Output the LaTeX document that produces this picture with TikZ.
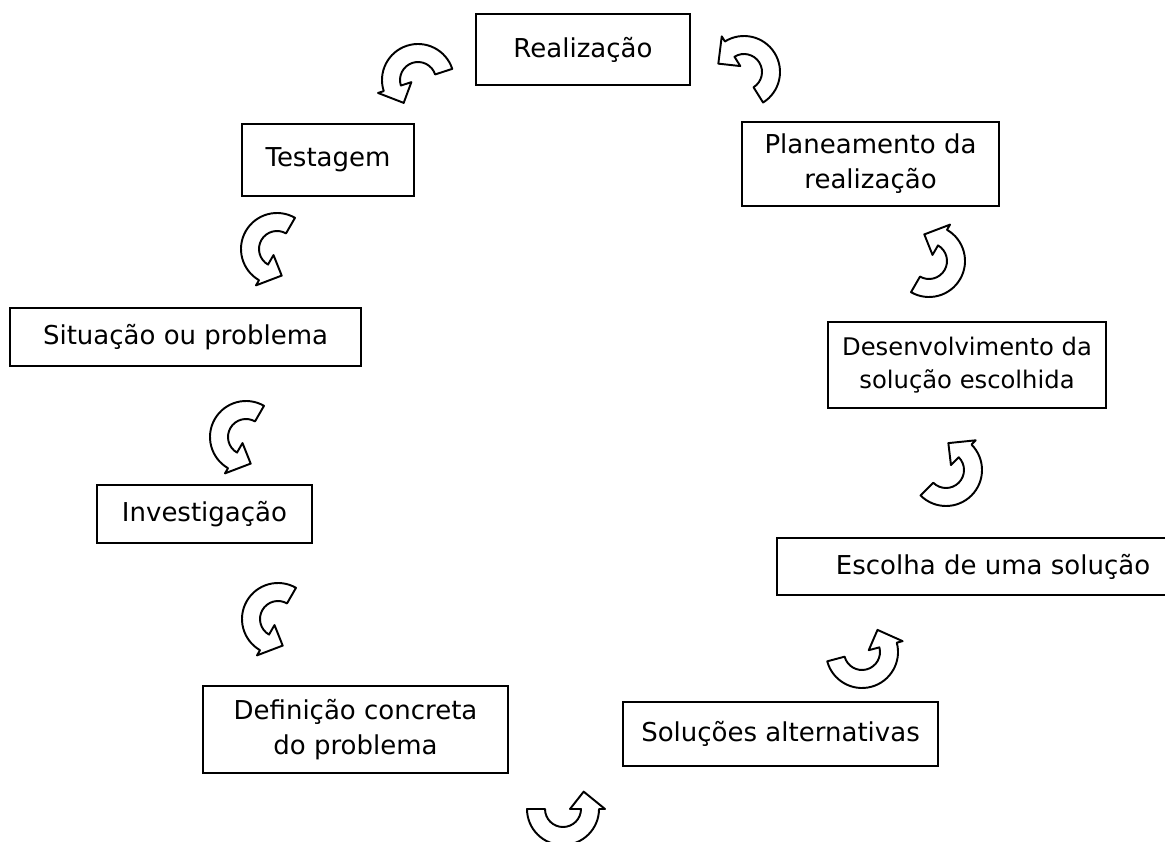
\documentclass[tikz,border=0pt]{standalone}
\usepackage{fontspec}
\setmainfont{DejaVu Sans}
\usetikzlibrary{positioning}

\begin{document}
\begin{tikzpicture}[
  font=\fontsize{14.8}{20}\selectfont,
  stage/.style={draw, line width=1pt, align=center, inner sep=2pt},
  cyclearrow/.pic={
    \draw[line width=1.1pt, line join=round, fill=white] (60:0.72) arc[start angle=60, end angle=240, radius=0.72]
      -- (240:0.84) -- (280:0.54) -- (240:0.14) -- (240:0.36)
      arc[start angle=240, end angle=60, radius=0.36] -- cycle;
  }
]
\useasboundingbox (0,0) rectangle (23.3,16.82);

% stages of the cycle
\node[stage, minimum width=4.28cm, minimum height=1.42cm] (realizacao) at (11.66,15.83) {Realização};
\node[stage, minimum width=3.44cm, minimum height=1.44cm] (testagem) at (6.56,13.62) {Testagem};
\node[stage, minimum width=5.14cm, minimum height=1.68cm] (planeamento) at (17.41,13.54) {Planeamento da\\realização};
\node[stage, minimum width=7.02cm, minimum height=1.16cm] (situacao) at (3.71,10.08) {Situação ou problema};
\node[stage, minimum width=5.56cm, minimum height=1.72cm, font=\fontsize{13.8}{18.5}\selectfont] (desenvolvimento) at (19.34,9.52) {Desenvolvimento da\\solução escolhida};
\node[stage, minimum width=4.30cm, minimum height=1.16cm] (investigacao) at (4.09,6.54) {Investigação};
\node[stage, minimum width=8.64cm, minimum height=1.14cm] (escolha) at (19.86,5.49) {Escolha de uma solução};
\node[stage, minimum width=6.10cm, minimum height=1.74cm] (definicao) at (7.11,2.23) {Definição concreta\\do problema};
\node[stage, minimum width=6.30cm, minimum height=1.28cm] (solucoes) at (15.61,2.14) {Soluções alternativas};

% curved arrows between the stages
\pic[rotate=-42] (arrA) at (8.36,15.22) {cyclearrow};
\pic[rotate=242] (arrB) at (14.88,15.38) {cyclearrow};
\pic (arrC) at (5.54,11.84) {cyclearrow};
\pic[rotate=180] (arrD) at (18.58,11.60) {cyclearrow};
\pic (arrE) at (4.92,8.08) {cyclearrow};
\pic[rotate=165] (arrF) at (18.92,7.42) {cyclearrow};
\pic (arrG) at (5.56,4.44) {cyclearrow};
\pic[rotate=135] (arrH) at (17.24,3.78) {cyclearrow};
\pic[rotate=120] (arrI) at (11.26,0.64) {cyclearrow};
\end{tikzpicture}
\end{document}
